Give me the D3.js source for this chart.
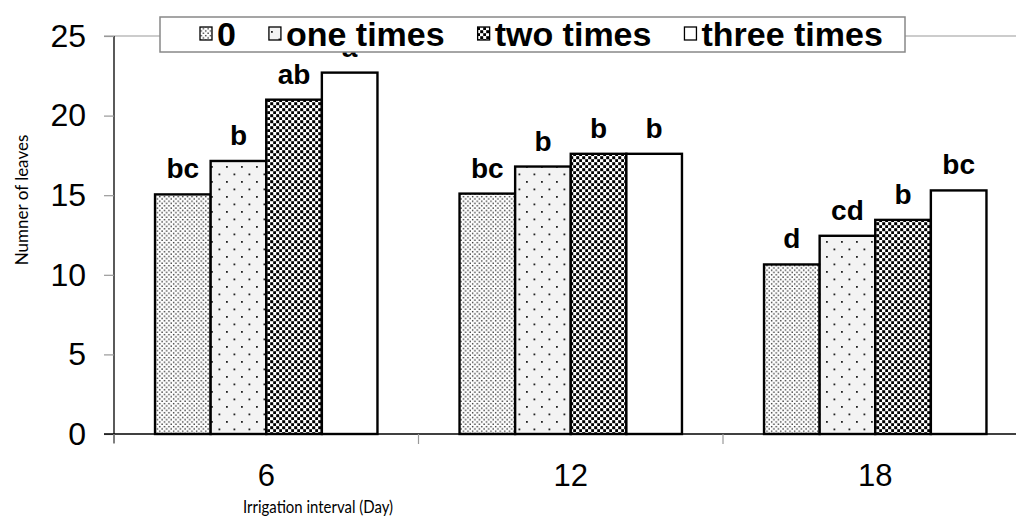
<!DOCTYPE html>
<html><head><meta charset="utf-8">
<script src="https://cdn.jsdelivr.net/npm/d3@7"></script>
<style>body{margin:0;background:#fff}svg{display:block}</style>
</head><body><svg id="c" width="1016" height="521"></svg>
<script>
const categories = ["6", "12", "18"];
const series = ["0", "one times", "two times", "three times"];
const values0 = [15.05, 15.1, 10.65];
const values1 = [17.15, 16.8, 12.45];
const values2 = [21.0, 17.6, 13.45];
const values3 = [22.7, 17.6, 15.3];
const letters0 = ["bc", "bc", "d"];
const letters1 = ["b", "b", "cd"];
const letters2 = ["ab", "b", "b"];
const letters3 = ["a", "b", "bc"];
const yTicks = [0, 5, 10, 15, 20, 25];

const allVals = [values0, values1, values2, values3];
const allLetters = [letters0, letters1, letters2, letters3];

const svg = d3.select("#c");
const defs = svg.append("defs");

function pat(id, size, bg, fn) {
  const p = defs.append("pattern").attr("id", id).attr("patternUnits", "userSpaceOnUse")
    .attr("width", size).attr("height", size);
  p.append("rect").attr("width", size).attr("height", size).attr("fill", bg);
  fn(p);
}
pat("p0", 4.6, "#fff", p => {
  p.append("rect").attr("x", 0.4).attr("y", 0.4).attr("width", 1.4).attr("height", 1.4).attr("fill", "#333");
  p.append("rect").attr("x", 2.7).attr("y", 2.7).attr("width", 1.4).attr("height", 1.4).attr("fill", "#333");
});
pat("p1", 15, "#f3f3f3", p => {
  p.append("rect").attr("x", 1).attr("y", 1).attr("width", 1.8).attr("height", 1.8).attr("fill", "#222");
  p.append("rect").attr("x", 8.5).attr("y", 8.5).attr("width", 1.8).attr("height", 1.8).attr("fill", "#222");
});
pat("p2", 6, "#fff", p => {
  p.append("rect").attr("x", 0.2).attr("y", 0.2).attr("width", 3).attr("height", 3).attr("fill", "#000");
  p.append("rect").attr("x", 3.2).attr("y", 3.2).attr("width", 3).attr("height", 3).attr("fill", "#000");
});
const fills = ["url(#p0)", "url(#p1)", "url(#p2)", "#fff"];

const x = d3.scaleBand().domain(categories).range([114, 1027.5]).padding(0);
const xs = d3.scaleBand().domain(series).range([0, x.bandwidth()]).paddingInner(0).paddingOuter(0.738);
const y = d3.scaleLinear().domain([0, 25]).range([434, 36]);

svg.append("line").attr("x1", 104).attr("x2", 1016).attr("y1", y(25)).attr("y2", y(25))
  .attr("stroke", "#999").attr("stroke-width", 1.2);

const yAxis = svg.append("g").attr("transform", "translate(114,0)")
  .call(d3.axisLeft(y).tickValues(yTicks).tickSize(10).tickPadding(18).tickFormat(d3.format("d")));
yAxis.select(".domain").attr("stroke", "#000").attr("stroke-width", 1.3).attr("d", `M0,${y(25)}V${y(0)+9}`);
yAxis.selectAll(".tick line").attr("stroke", "#999").attr("stroke-width", 1.2);
yAxis.selectAll(".tick text").attr("font-family", "Liberation Sans, Arial, sans-serif").attr("font-size", 32).attr("fill", "#000");

series.forEach((s, si) => {
  svg.append("g").selectAll("rect").data(categories).join("rect")
    .attr("x", c => x(c) + xs(s))
    .attr("y", (c, ci) => y(allVals[si][ci]))
    .attr("width", xs.bandwidth())
    .attr("height", (c, ci) => y(0) - y(allVals[si][ci]))
    .attr("fill", fills[si]).attr("stroke", "#000").attr("stroke-width", 2.4);
  svg.append("g").selectAll("text").data(categories).join("text")
    .attr("x", c => x(c) + xs(s) + xs.bandwidth() / 2)
    .attr("y", (c, ci) => y(allVals[si][ci]) - 16)
    .attr("text-anchor", "middle")
    .attr("font-family", "Liberation Sans, Arial, sans-serif").attr("font-weight", "bold")
    .attr("font-size", 28).attr("fill", "#000")
    .text((c, ci) => allLetters[si][ci]);
});

const xAxis = svg.append("g").attr("transform", `translate(0,${y(0)})`)
  .call(d3.axisBottom(x).tickSize(0).tickPadding(30));
xAxis.select(".domain").attr("stroke", "#000").attr("stroke-width", 1.5).attr("d", "M104,0H1016");
xAxis.selectAll(".tick text").attr("font-family", "Liberation Sans, Arial, sans-serif").attr("font-size", 31).attr("fill", "#000");
const bTicks = categories.map(c => x(c));
xAxis.selectAll(".cticks").data(bTicks).join("line")
  .attr("x1", d => d).attr("x2", d => d).attr("y1", 0).attr("y2", 10)
  .attr("stroke", "#999").attr("stroke-width", 1.2);

svg.append("text").attr("transform", "translate(28,200) rotate(-90)")
  .attr("text-anchor", "middle").attr("font-family", "Lato, sans-serif").attr("font-size", 17)
  .attr("fill", "#000").text("Numner of leaves");
svg.append("text").attr("x", 318).attr("y", 513)
  .attr("text-anchor", "middle").attr("font-family", "Lato, sans-serif").attr("font-size", 18)
  .attr("textLength", 150).attr("lengthAdjust", "spacingAndGlyphs")
  .attr("fill", "#000").text("Irrigation interval (Day)");

const lg = svg.append("g");
lg.append("rect").attr("x", 160).attr("y", 17).attr("width", 745).attr("height", 35)
  .attr("fill", "#fff").attr("stroke", "#888").attr("stroke-width", 1.5);
let lx = 200;
series.forEach((s, si) => {
  lg.append("rect").attr("x", lx).attr("y", 27).attr("width", 12).attr("height", 13)
    .attr("fill", fills[si]).attr("stroke", "#000").attr("stroke-width", 1.3);
  const t = lg.append("text").attr("x", lx + 17).attr("y", 46)
    .attr("font-family", "Liberation Sans, Arial, sans-serif").attr("font-weight", "bold")
    .attr("font-size", 34).attr("fill", "#000").text(s);
  lx += 17 + t.node().getComputedTextLength() + 33;
});
</script></body></html>
